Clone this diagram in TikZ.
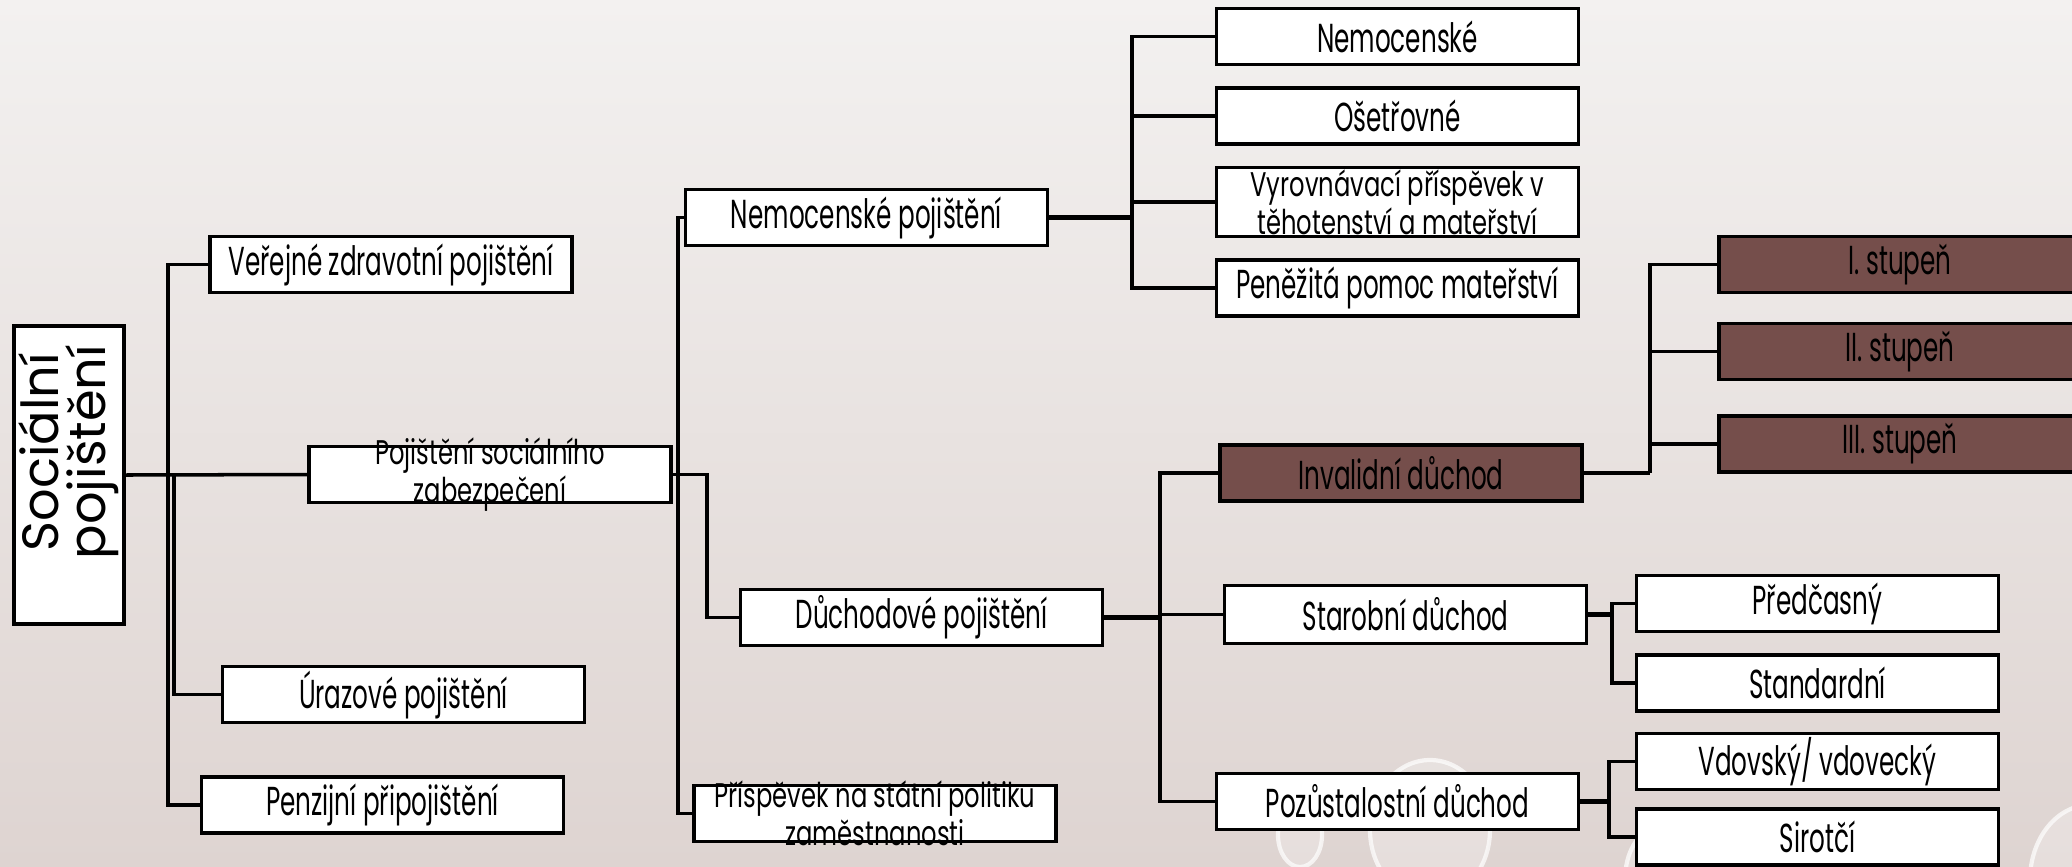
\documentclass[tikz,border=0pt]{standalone}
\usepackage{graphicx}
\usepackage{fontspec}
\setmainfont[FakeStretch=0.61]{Poppins}
\newfontfamily\widefont{Poppins}
\usepackage{tikz}
\usetikzlibrary{positioning}
\definecolor{invbrown}{HTML}{754E4B}
\definecolor{bgtop}{HTML}{F3F1F0}
\definecolor{bgbot}{HTML}{DED4D1}

\newcommand{\twolines}[1]{\parbox[c][0.46cm][c]{3.55cm}{\centering
    \scalebox{1}[0.86]{\parbox{3.55cm}{\centering\fontsize{11.3}{10}\selectfont #1}}}}

\begin{document}
\begin{tikzpicture}[x=0.01cm,y=-0.01cm,
        box/.style={draw=black,line width=1pt,fill=white,minimum width=3.62cm,
            minimum height=0.56cm,inner sep=1pt,align=center,
            font=\fontsize{11.5}{11.5}\selectfont},
        dark/.style={box,fill=invbrown},
        link/.style={line width=1pt,draw=black},
        bubble/.style={draw=white,line width=1.2pt,fill=white,fill opacity=0.25,draw opacity=0.7}]
    \fill[top color=bgtop,bottom color=bgbot] (0,0) rectangle (2072,866);
    \useasboundingbox (0,0) rectangle (2072,866);

    \draw[bubble] (1300,835) ellipse (22 and 32);
    \draw[bubble] (1430,830) ellipse (60 and 70);
    \draw[bubble] (1655,880) ellipse (30 and 50);
    \draw[bubble] (2090,880) ellipse (60 and 75);

        \node[box,rotate=90,minimum width=2.98cm,minimum height=1.1cm,align=none,
            font=\widefont\fontsize{14.5}{13.5}\selectfont] (soc) at (69,475)
            {\begin{tabular}{@{}c@{}}Sociální\\[-2pt]pojištění\end{tabular}\kern-0.46cm};
        \node[box] (vzp) at (391,264.5) {Veřejné zdravotní pojištění};
        \node[box] (psz) at (490,474.5) {\twolines{Pojištění sociálního\\zabezpečení}};
        \node[box] (uraz) at (403.5,694.5) {Úrazové pojištění};
        \node[box] (penz) at (382.5,805) {Penzijní připojištění};

        \node[box] (nemp) at (866.5,217.5) {Nemocenské pojištění};
        \node[box] (duch) at (921.5,617.5) {Důchodové pojištění};
        \node[box] (prisp) at (875,813.5) {\twolines{Příspěvek na státní politiku\\zaměstnanosti}};

        \node[box] (nem) at (1397.5,36.5) {Nemocenské};
        \node[box] [below = 0.2cm of nem] (oset) {Ošetřovné};
        \node[box,minimum height=0.69cm] [below = 0.2cm of oset] (vyr)
            {\twolines{Vyrovnávací příspěvek v\\těhotenství a mateřství}};
        \node[box] [below = 0.2cm of vyr] (pen) {Peněžitá pomoc mateřství};

        \node[dark] (inv) at (1401,473) {Invalidní důchod};
        \node[box,minimum height=0.58cm] (star) at (1405.5,614.5) {Starobní důchod};
        \node[box] (pozu) at (1397.5,801.5) {Pozůstalostní důchod};

        \node[dark] (st1) at (1900,264.5) {I. stupeň};
        \node[dark] (st2) at (1900,351.5) {II. stupeň};
        \node[dark] (st3) at (1900,444) {III. stupeň};

        \node[box] (pred) at (1817.5,603.5) {Předčasný};
        \node[box] [below = 0.2cm of pred] (stand) {Standardní};
        \node[box] (vdov) at (1817.5,761.5) {Vdovský/ vdovecký};
        \node[box] (sir) at (1817.5,837) {Sirotčí};

        \coordinate (j1) at (168,474.5);
        \coordinate (j2) at (174,474.5);
        \coordinate (j3) at (678,474.5);
        \coordinate (j4) at (707,474.5);
        \coordinate (j5) at (1132,217.5);
        \coordinate (j6) at (1160,617.5);
        \coordinate (j7) at (1650,473);
        \coordinate (j8) at (1612,614.5);
        \coordinate (j9) at (1609,801.5);

        \draw[link] (soc.south) -- (psz.west);
        \draw[link] (vzp.west) -| (j1) |- (penz.west);
        \draw[link] (j2) |- (uraz.west);
        \draw[link] (psz.east) -- (j4) |- (duch.west);
        \draw[link] (nemp.west) -| (j3) |- (prisp.west);
        \draw[link,line width=1.3pt] (nemp.east) -- (j5);
        \foreach \n in {nem,oset,vyr,pen}
            \draw[link] (j5) |- (\n.west);
        \draw[link,line width=1.3pt] (duch.east) -- (j6);
        \foreach \n in {inv,star,pozu}
            \draw[link] (j6) |- (\n.west);
        \draw[link,line width=1.3pt] (inv.east) -- (j7);
        \foreach \n in {st1,st2,st3}
            \draw[link] (j7) |- (\n.west);
        \draw[link,line width=1.3pt] (star.east) -- (j8);
        \foreach \n in {pred,stand}
            \draw[link] (j8) |- (\n.west);
        \draw[link,line width=1.3pt] (pozu.east) -- (j9);
        \foreach \n in {vdov,sir}
            \draw[link] (j9) |- (\n.west);
\end{tikzpicture}
\end{document}
